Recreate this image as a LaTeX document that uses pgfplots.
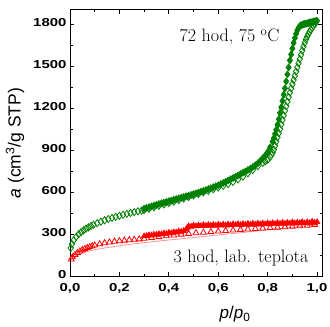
\documentclass[border=0pt]{standalone}
\usepackage{pgfplots}
\pgfplotsset{compat=1.18}
\usepackage{fontspec}
\usetikzlibrary{calc}
\newfontfamily\arial{Liberation Sans}
\newfontfamily\tickfont[FakeStretch=1.3]{Liberation Sans}
\definecolor{ggreen}{RGB}{0,128,0}
\definecolor{rred}{RGB}{255,0,0}
\begin{document}
\begin{tikzpicture}
\begin{axis}[
  scale only axis, width=252pt, height=266pt,
  xmin=0, xmax=1.02, ymin=0, ymax=1900,
  xtick={0,0.2,0.4,0.6,0.8,1.0}, ytick={0,300,600,900,1200,1500,1800},
  minor x tick num=1, minor y tick num=1,
  tick align=inside, axis line style={line width=1pt}, tick style={line width=0.8pt, black},
  major tick length=4pt, minor tick length=2.5pt,
  /pgf/number format/assume math mode=true,
  ticklabel style={font=\tickfont\bfseries\fontsize{11.5}{12}\selectfont},
  xticklabel style={yshift=-4pt, /pgf/number format/.cd, use comma, fixed, fixed zerofill, precision=1},
  yticklabel style={yshift=1pt, /pgf/number format/.cd, 1000 sep={}},
  xlabel={\textit{p}/\textit{p}\textsubscript{0}},
  xlabel style={font=\arial\fontsize{17}{18}\selectfont, at={(axis description cs:0.655,-0.145)}, anchor=center},
  ylabel={\textit{a} (cm\textsuperscript{3}/g STP)},
  ylabel style={font=\arial\fontsize{17.5}{18}\selectfont, at={(axis description cs:-0.218,0.5)}, anchor=center},
  clip=false,
]
% red thin line
\addplot[rred!70, line width=0.8pt, opacity=0.6, no marks] coordinates {
(0.005,118)(0.02,140)(0.05,165)(0.1,188)(0.15,203)(0.2,216)(0.25,228)(0.3,238)(0.35,248)(0.4,257)(0.5,275)(0.6,293)(0.7,311)(0.8,329)(0.9,347)(1.0,365)};
% red adsorption (open)
\addplot[rred, only marks, mark=triangle, mark size=3.4pt, line width=0.8pt] coordinates {
(0.005,120)(0.01,135)(0.02,152)(0.03,165)(0.04,176)(0.05,186)(0.06,194)(0.07,201)(0.08,208)(0.09,214)(0.10,219)(0.12,228)(0.14,235)(0.16,241)(0.18,246)(0.20,250)(0.22,254)(0.24,257)(0.26,260)(0.28,263)(0.30,267)(0.33,273)(0.36,279)(0.39,285)(0.42,291)(0.45,297)(0.48,302)(0.51,307)(0.54,311)(0.57,315)(0.60,319)(0.63,323)(0.66,327)(0.69,331)(0.72,334)(0.75,337)(0.78,341)(0.81,344)(0.84,347)(0.87,350)(0.90,353)(0.93,357)(0.96,361)(0.99,366)};
% red desorption (filled)
\addplot[rred, only marks, mark=triangle*, mark size=3.4pt, line width=0.5pt] coordinates {
(1.00,386)(0.99,380)(0.98,388)(0.97,379)(0.96,384)(0.95,377)(0.94,385)(0.93,378)(0.92,382)(0.91,376)(0.90,383)(0.89,375)(0.88,381)(0.87,374)(0.86,380)(0.85,373)(0.84,379)(0.83,372)(0.82,378)(0.81,371)(0.80,377)(0.79,370)(0.78,376)(0.77,369)(0.76,375)(0.75,368)(0.74,374)(0.73,367)(0.72,373)(0.71,366)(0.70,372)(0.69,365)(0.68,371)(0.67,364)(0.66,370)(0.65,363)(0.64,369)(0.63,362)(0.62,368)(0.61,361)(0.60,367)(0.59,360)(0.58,366)(0.57,359)(0.56,365)(0.55,358)(0.54,364)(0.53,357)(0.52,362)(0.51,356)(0.50,360)(0.49,353)(0.48,356)(0.475,345)(0.47,332)(0.46,322)(0.45,316)(0.44,318)(0.43,311)(0.42,313)(0.41,306)(0.40,309)(0.39,302)(0.38,305)(0.37,298)(0.36,300)(0.35,294)(0.34,296)(0.33,290)(0.32,292)(0.31,286)(0.30,284)};
% green adsorption (open)
\addplot[ggreen, only marks, mark=diamond, mark size=3.6pt, line width=0.8pt] coordinates {
(0.003,200)(0.008,228)(0.015,255)(0.025,280)(0.035,298)(0.045,313)(0.055,326)(0.065,338)(0.075,348)(0.085,357)(0.095,366)(0.11,377)(0.125,388)(0.14,398)(0.155,407)(0.17,415)(0.185,423)(0.2,430)(0.215,437)(0.23,444)(0.245,450)(0.26,456)(0.275,462)(0.29,467)
(0.30,471)(0.32,481)(0.34,491)(0.36,501)(0.38,511)(0.40,521)(0.42,531)(0.44,542)(0.46,553)(0.48,564)(0.50,575)(0.52,586)(0.54,597)(0.56,608)(0.58,620)(0.60,632)(0.62,644)(0.64,657)(0.66,672)(0.68,690)(0.70,710)(0.72,733)(0.74,757)(0.76,784)(0.78,808)(0.79,818)(0.80,830)(0.81,850)(0.815,865)(0.82,880)(0.825,903)(0.83,930)(0.835,960)(0.84,990)(0.845,1020)(0.85,1050)(0.855,1082)(0.86,1115)(0.865,1148)(0.87,1180)(0.875,1212)(0.88,1245)(0.885,1278)(0.89,1310)(0.895,1340)(0.90,1370)(0.905,1400)(0.91,1430)(0.915,1460)(0.92,1490)(0.925,1520)(0.93,1550)(0.935,1580)(0.94,1610)(0.945,1638)(0.95,1665)(0.955,1690)(0.96,1710)(0.965,1728)(0.97,1745)(0.975,1760)(0.98,1772)(0.985,1785)(0.99,1798)(0.995,1812)};
% green desorption (filled)
\addplot[ggreen, only marks, mark=diamond*, mark size=3.6pt, line width=0.5pt] coordinates {
(1.000,1823)(0.995,1820)(0.99,1818)(0.985,1816)(0.98,1814)(0.975,1812)(0.97,1810)(0.965,1807)(0.96,1805)(0.955,1802)(0.95,1800)(0.945,1798)(0.94,1795)(0.935,1790)(0.93,1785)(0.925,1772)(0.92,1755)(0.915,1730)(0.91,1700)(0.905,1665)(0.90,1625)(0.895,1582)(0.89,1540)(0.885,1490)(0.88,1440)(0.875,1390)(0.87,1340)(0.865,1295)(0.86,1250)(0.855,1205)(0.85,1165)(0.845,1120)(0.84,1080)(0.835,1045)(0.83,1015)(0.825,985)(0.82,960)(0.81,920)(0.80,885)(0.79,860)(0.78,840)(0.77,822)(0.76,805)(0.75,791)(0.74,778)(0.73,767)(0.72,757)(0.71,747)(0.70,738)(0.69,728)(0.68,718)(0.67,709)(0.66,700)(0.65,691)(0.64,682)(0.63,673)(0.62,664)(0.61,656)(0.60,648)(0.59,641)(0.58,634)(0.57,627)(0.56,621)(0.55,614)(0.54,608)(0.53,602)(0.52,596)(0.51,590)(0.50,585)(0.49,579)(0.48,574)(0.47,569)(0.46,564)(0.45,559)(0.44,554)(0.43,549)(0.42,544)(0.41,539)(0.40,534)(0.39,529)(0.38,524)(0.37,519)(0.36,514)(0.35,508)(0.34,503)(0.33,497)(0.32,492)(0.31,486)(0.30,481)};
\node[anchor=base east, font=\fontsize{18}{20}\selectfont] at (axis description cs:0.845,0.88) {72 hod, 75 $^{\mathrm{o}}$C};
\node[anchor=base east, font=\fontsize{18}{20}\selectfont] at (axis description cs:0.96,0.049) {3 hod, lab. teplota};
\end{axis}
\pgfresetboundingbox
\path[use as bounding box] ($(current axis.south west)+(-70pt,-50pt)$) rectangle ($(current axis.north east)+(8pt,10pt)$);
\end{tikzpicture}
\end{document}
